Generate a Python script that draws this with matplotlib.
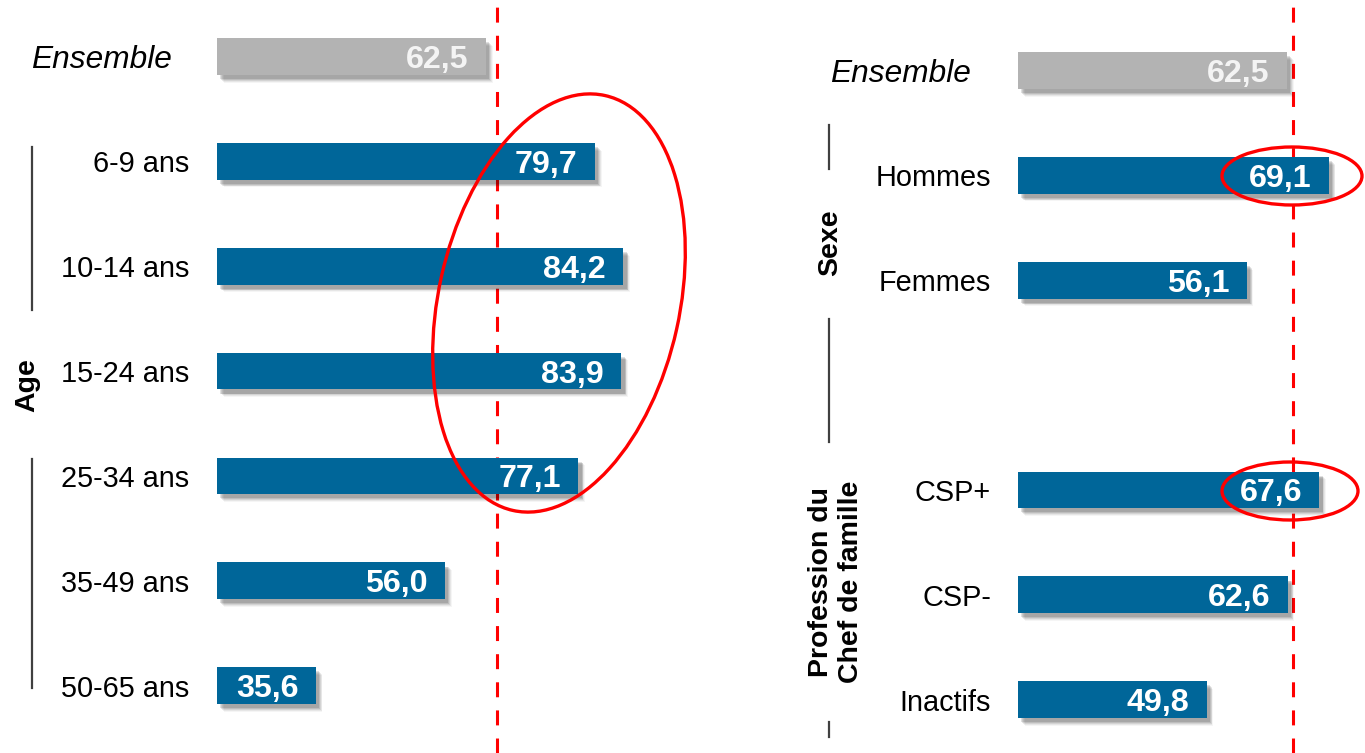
import matplotlib
matplotlib.use("Agg")
import matplotlib.pyplot as plt
from matplotlib.patches import Ellipse
import matplotlib.patheffects as pe

plt.rcParams['font.family'] = ['Liberation Sans', 'DejaVu Sans']

# ---------------- data ----------------
left_labels = ["Ensemble", "6-9 ans", "10-14 ans", "15-24 ans", "25-34 ans", "35-49 ans", "50-65 ans"]
left_values = [62.5, 79.7, 84.2, 83.9, 77.1, 56.0, 35.6]

right_labels = ["Ensemble", "Hommes", "Femmes", "CSP+", "CSP-", "Inactifs"]
right_values = [62.5, 69.1, 56.1, 67.6, 62.6, 49.8]
right_slots = [0, 1, 2, 4, 5, 6]

group_age = "Age"
group_sexe = "Sexe"
group_prof = "Profession du\nChef de famille"

# ---------------- style ----------------
BLUE = "#006699"
GREY = "#B3B3B3"
RED = "#FF0000"
W, H = 1365, 753
XMIN = 20.0
SCALE = 6.33  # px per unit
BAR_H = 0.35

fig = plt.figure(figsize=(W / 100, H / 100), dpi=100)

shadow = [pe.SimplePatchShadow(offset=(4.8, -5.6), shadow_rgbFace="#000000", alpha=0.04),
          pe.SimplePatchShadow(offset=(4.2, -4.8), shadow_rgbFace="#000000", alpha=0.06),
          pe.SimplePatchShadow(offset=(3.6, -4.2), shadow_rgbFace="#000000", alpha=0.08),
          pe.SimplePatchShadow(offset=(3.0, -3.6), shadow_rgbFace="#000000", alpha=0.10),
          pe.SimplePatchShadow(offset=(2.4, -3.0), shadow_rgbFace="#000000", alpha=0.12),
          pe.Normal()]


def panel(x0_px, x1_px, first_center_px, labels, values, slots, ens_off, lab_off, ref_val):
    ax = fig.add_axes([x0_px / W, 0, (x1_px - x0_px) / W, 1])
    ax.set_xlim(XMIN, XMIN + (x1_px - x0_px) / SCALE)
    step = 104.85
    ax.set_ylim((H - first_center_px) / step, -first_center_px / step)
    ax.axis("off")
    ax.axvline(ref_val, color=RED, lw=2.2, linestyle=(0, (4.9, 4.3)), zorder=1)
    colors = [GREY] + [BLUE] * (len(values) - 1)
    bars = ax.barh(slots, [v - XMIN for v in values], left=XMIN, height=BAR_H,
                   color=colors, zorder=3)
    for b in bars:
        b.set_path_effects(shadow)
    for i, (lab, v, s) in enumerate(zip(labels, values, slots)):
        ax.annotate(f"{v:.1f}".replace(".", ","), xy=(v, s), xytext=(-12.5, 0),
                    textcoords="offset points", ha="right", va="center_baseline",
                    color="#F4F4F4" if i == 0 else "white", fontsize=23.2,
                    fontweight="bold", zorder=4)
        if i == 0:
            ax.annotate(lab, xy=(0, s), xycoords=("axes fraction", "data"),
                        xytext=(-ens_off, 0), textcoords="offset points",
                        ha="right", va="center_baseline", fontsize=22.8,
                        style="italic", color="black")
        else:
            ax.annotate(lab, xy=(0, s), xycoords=("axes fraction", "data"),
                        xytext=(-lab_off, 0), textcoords="offset points",
                        ha="right", va="center_baseline", fontsize=20.8, color="black")
    return ax


axL = panel(217, 700, 56.5, left_labels, left_values, list(range(len(left_values))),
            32.4, 20.2, 64.2)
axR = panel(1018, 1365, 70.5, right_labels, right_values, right_slots,
            33.8, 19.4, 63.5)

# overlay in pixel coordinates for decorations
ov = fig.add_axes([0, 0, 1, 1], zorder=10)
ov.set_xlim(0, W)
ov.set_ylim(H, 0)
ov.axis("off")
ov.patch.set_alpha(0)

line_kw = dict(color="#404040", lw=1.6)
ov.plot([32, 32], [147, 310], **line_kw)
ov.plot([32, 32], [459, 688], **line_kw)
ov.plot([829, 829], [125, 169], **line_kw)
ov.plot([829, 829], [319, 442], **line_kw)
ov.plot([829, 829], [722, 737], **line_kw)

ov.text(27, 385, group_age, rotation=90, ha="center", va="center",
        fontsize=20.5, fontweight="bold")
ov.text(830, 243, group_sexe, rotation=90, ha="center", va="center",
        fontsize=20.5, fontweight="bold")
ov.text(836, 582, group_prof, rotation=90, ha="center", va="center",
        fontsize=20.5, fontweight="bold", multialignment="center", linespacing=1.25)

ov.add_patch(Ellipse((559, 303), 425, 241, angle=-77.5, fill=False, ec=RED, lw=2.4))
ov.add_patch(Ellipse((1292, 176), 140, 58, fill=False, ec=RED, lw=2.4))
ov.add_patch(Ellipse((1290, 491), 136, 58, fill=False, ec=RED, lw=2.4))

fig.savefig("out.png", dpi=100)
